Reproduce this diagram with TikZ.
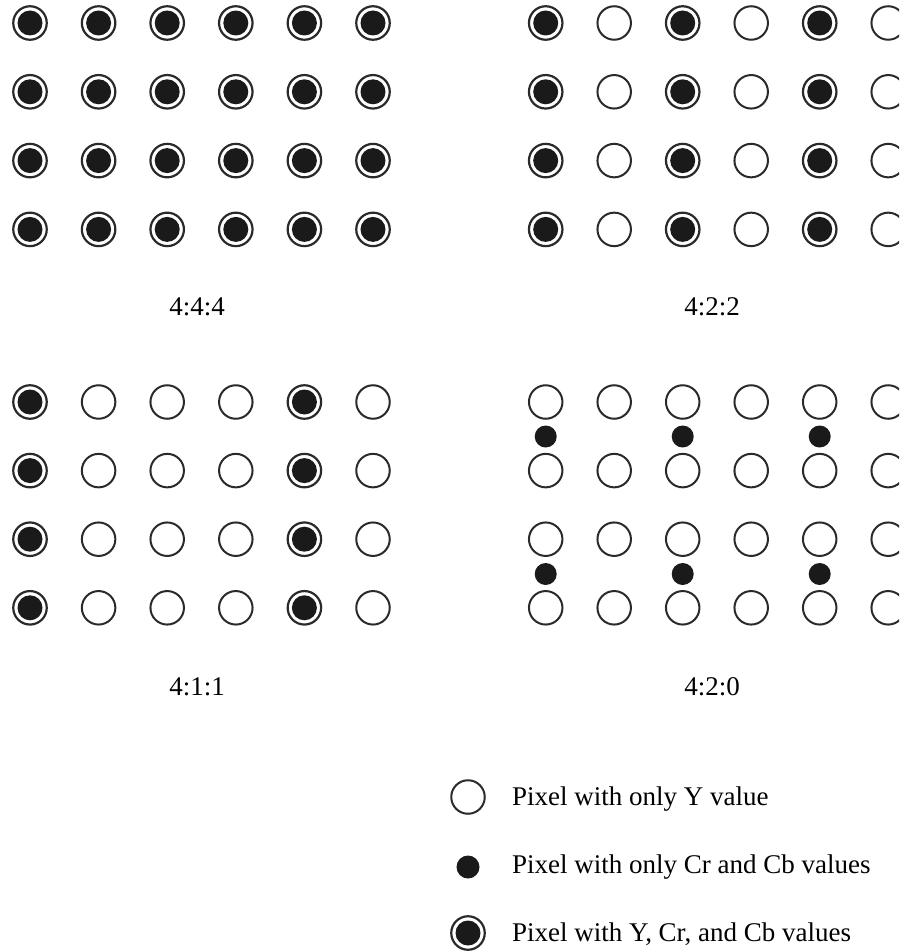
\documentclass[tikz,border=0pt]{standalone}
\usepackage{fontspec}
\setmainfont{Liberation Serif}
\definecolor{ink}{HTML}{1A1A1A}
\definecolor{ringc}{HTML}{2A2A2A}
\begin{document}
\begin{tikzpicture}[x=1pt,y=-1pt,
  ycc/.style={circle, draw=ringc, line width=2.2pt, minimum size=33.5pt, inner sep=0pt,
    path picture={\fill[ink] (path picture bounding box.center) circle (12.5pt);}},
  ypix/.style={circle, draw=ringc, line width=2pt, minimum size=33.5pt, inner sep=0pt},
  cdot/.style={circle, fill=ink, minimum size=22pt, inner sep=0pt},
  lbl/.style={anchor=base, inner sep=0pt, font=\fontsize{27}{32}\selectfont},
  legtext/.style={anchor=base west, inner sep=0pt, font=\fontsize{27}{32}\selectfont}]
\useasboundingbox (0,0) rectangle (899,952);
\clip (0,0) rectangle (899,952);
% 4:4:4
\foreach \r in {0,...,3}{
  \foreach \c in {0,...,5}{
    \node[ycc] (a-\r-\c) at ({30+68.6*\c},{23+68.8*\r}) {};
  }
}
\node[lbl] (l444) at (197,315) {4:4:4};
% 4:2:2
\foreach \r in {0,...,3}{
  \foreach \c in {0,2,4}{
    \node[ycc] (b-\r-\c) at ({545.7+68.5*\c},{23+68.8*\r}) {};
  }
  \foreach \c in {1,3,5}{
    \node[ypix] (b-\r-\c) at ({545.7+68.5*\c},{23+68.8*\r}) {};
  }
}
\node[lbl] (l422) at (712,315) {4:2:2};
% 4:1:1
\foreach \r in {0,...,3}{
  \foreach \c in {0,4}{
    \node[ycc] (c-\r-\c) at ({30+68.6*\c},{402+68.6*\r}) {};
  }
  \foreach \c in {1,2,3,5}{
    \node[ypix] (c-\r-\c) at ({30+68.6*\c},{402+68.6*\r}) {};
  }
}
\node[lbl] (l411) at (197,695) {4:1:1};
% 4:2:0
\foreach \r in {0,...,3}{
  \foreach \c in {0,...,5}{
    \node[ypix] (d-\r-\c) at ({545.7+68.5*\c},{402+68.6*\r}) {};
  }
}
\foreach \c in {0,2,4}{
  \node[cdot] (e-0-\c) at ({545.7+68.5*\c},436.5) {};
  \node[cdot] (e-1-\c) at ({545.7+68.5*\c},574) {};
}
\node[lbl] (l420) at (712,695) {4:2:0};
% legend
\node[ypix] (k1) at (468,797) {};
\node[legtext] (t1) at (512,805) {Pixel with only Y value};
\node[cdot, minimum size=23pt] (k2) at (468,867) {};
\node[legtext] (t2) at (512,873) {Pixel with only Cr and Cb values};
\node[ycc] (k3) at (468,933) {};
\node[legtext] (t3) at (512,941) {Pixel with Y, Cr, and Cb values};
\end{tikzpicture}
\end{document}
